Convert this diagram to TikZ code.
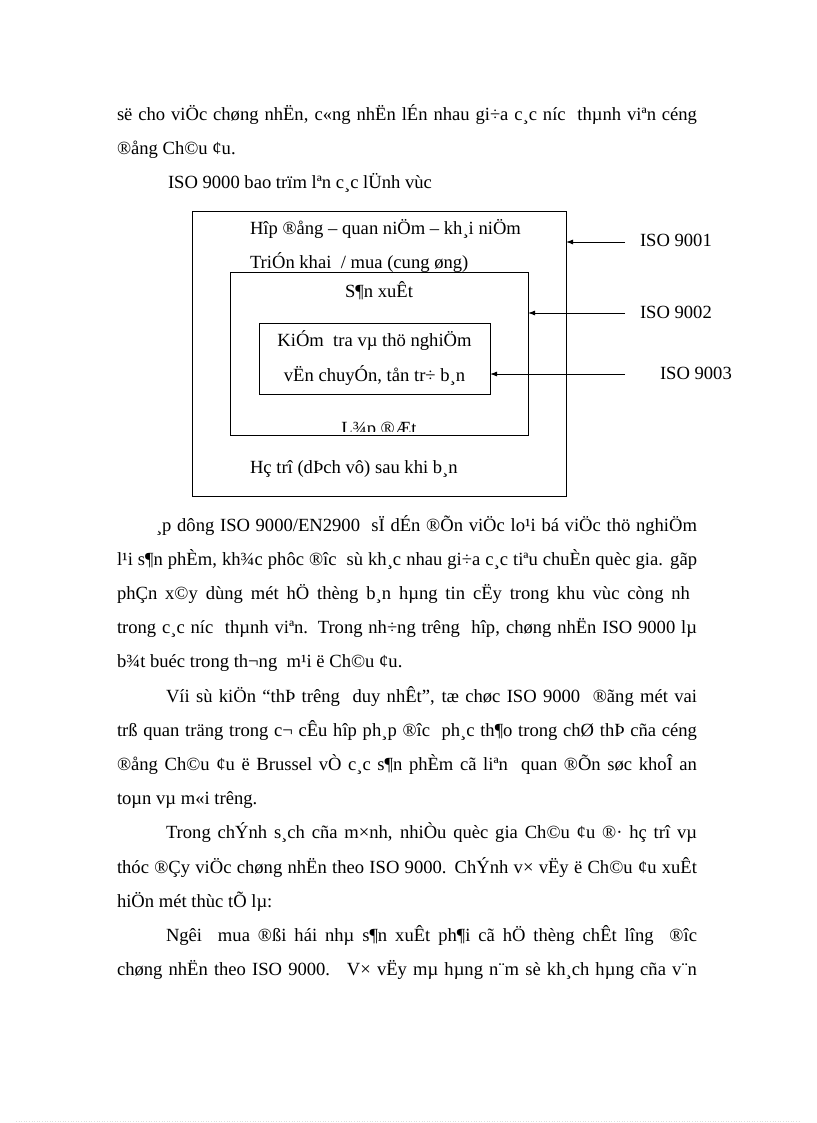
\documentclass[tikz,border=0pt]{standalone}
\usepackage{fontspec}
\setmainfont{Liberation Serif}
\usetikzlibrary{arrows.meta}
\begin{document}
\begin{tikzpicture}[x=1pt,y=-1pt,
  font=\fontsize{18.6}{22}\selectfont,
  txt/.style={anchor=base west, inner sep=0pt, outer sep=0pt},
  ctxt/.style={anchor=base, inner sep=0pt, outer sep=0pt},
  boxst/.style={draw, line width=0.9pt, inner sep=0pt, outer sep=0pt, anchor=north west},
  arr/.style={-{Latex[length=7pt,width=5pt]}, line width=0.9pt}]
\useasboundingbox[fill=white] (0,0) rectangle (816,1123);

% top text
\node[txt] (l1) at (117,121) {\makebox[580pt][s]{së cho viÖc chøng nhËn, c«ng nhËn lÉn nhau gi÷a c¸c níc~ thµnh viªn céng}};
\node[txt] (l2) at (117,155) {®ång Ch©u ¢u.};
\node[txt] (l3) at (168,189) {ISO 9000 bao trïm lªn c¸c lÜnh vùc};

% diagram boxes
\node[boxst, minimum width=374pt, minimum height=285pt] (outer) at (192,211) {};
\node[boxst, minimum width=298pt, minimum height=163pt] (middle) at (230,272) {};
\node[boxst, minimum width=231pt, minimum height=71pt] (inner) at (259,323) {};

% diagram texts
\node[txt] (t1) at (250,235) {Hîp ®ång – quan niÖm – kh¸i niÖm};
\node[txt] (t2) at (250,268) {TriÓn khai~ / mua (cung øng)};
\node[ctxt] (t3) at (379,297) {S¶n xuÊt};
\node[ctxt] (t4) at (374.5,346) {KiÓm~ tra vµ thö nghiÖm};
\node[ctxt] (t5) at (374.5,381) {vËn chuyÓn, tån tr÷ b¸n};
\begin{scope}
\clip (232,400) rectangle (526,431);
\node[ctxt] (t6) at (379,434) {L¾p ®Æt};
\end{scope}
\node[txt] (t7) at (250,473) {Hç trî (dÞch vô) sau khi b¸n};

% labels and arrows
\node[txt] (iso1) at (640,247) {ISO 9001};
\node[txt] (iso2) at (640,318) {ISO 9002};
\node[txt] (iso3) at (660,379) {ISO 9003};
\coordinate (s1) at (625,242);
\coordinate (s2) at (625,313);
\coordinate (s3) at (625,374);
\draw[arr] (s1) -- (s1 -| outer.east);
\draw[arr] (s2) -- (s2 -| middle.east);
\draw[arr] (s3) -- (s3 -| inner.east);

% paragraph 1
\node[txt] (p1a) at (156,531) {\makebox[541pt][s]{¸p dông ISO 9000/EN2900~ sÏ dÉn ®Õn viÖc lo¹i bá viÖc thö nghiÖm}};
\node[txt] (p1b) at (117,565.2) {\makebox[580pt][s]{l¹i s¶n phÈm, kh¾c phôc ®îc~ sù kh¸c nhau gi÷a c¸c tiªu chuÈn quèc gia. gãp}};
\node[txt] (p1c) at (117,599.4) {\makebox[573pt][s]{phÇn x©y dùng mét hÖ thèng b¸n hµng tin cËy trong khu vùc còng nh}};
\node[txt] (p1d) at (117,633.6) {\makebox[580pt][s]{trong c¸c níc~ thµnh viªn. Trong nh÷ng trêng~ hîp, chøng nhËn ISO 9000 lµ}};
\node[txt] (p1e) at (117,667.8) {b¾t buéc trong th¬ng~ m¹i ë Ch©u ¢u.};

% paragraph 2
\node[txt] (p2a) at (166,702) {\makebox[531pt][s]{Víi sù kiÖn “thÞ trêng~ duy nhÊt”, tæ chøc ISO 9000~ ®ãng mét vai}};
\node[txt] (p2b) at (117,736.2) {\makebox[580pt][s]{trß quan träng trong c¬ cÊu hîp ph¸p ®îc~ ph¸c th¶o trong chØ thÞ cña céng}};
\node[txt] (p2c) at (117,770.4) {\makebox[580pt][s]{®ång Ch©u ¢u ë Brussel vÒ c¸c s¶n phÈm cã liªn~ quan ®Õn søc khoÎ an}};
\node[txt] (p2d) at (117,804.6) {toµn vµ m«i trêng.};

% paragraph 3
\node[txt] (p3a) at (166,838.8) {\makebox[531pt][s]{Trong chÝnh s¸ch cña m×nh, nhiÒu quèc gia Ch©u ¢u ®· hç trî vµ}};
\node[txt] (p3b) at (117,873) {\makebox[580pt][s]{thóc ®Çy viÖc chøng nhËn theo ISO 9000. ChÝnh v× vËy ë Ch©u ¢u xuÊt}};
\node[txt] (p3c) at (117,907.2) {hiÖn mét thùc tÕ lµ:};

% paragraph 4
\node[txt] (p4a) at (166,941.4) {\makebox[531pt][s]{Ngêi~ mua ®ßi hái nhµ s¶n xuÊt ph¶i cã hÖ thèng chÊt lîng~ ®îc}};
\node[txt] (p4b) at (117,975.6) {\makebox[580pt][s]{chøng nhËn theo ISO 9000.~ V× vËy mµ hµng n¨m sè kh¸ch hµng cña v¨n}};

\draw[gray!25, line width=0.6pt, dotted] (16,1121.5) -- (800,1121.5);
\end{tikzpicture}
\end{document}
